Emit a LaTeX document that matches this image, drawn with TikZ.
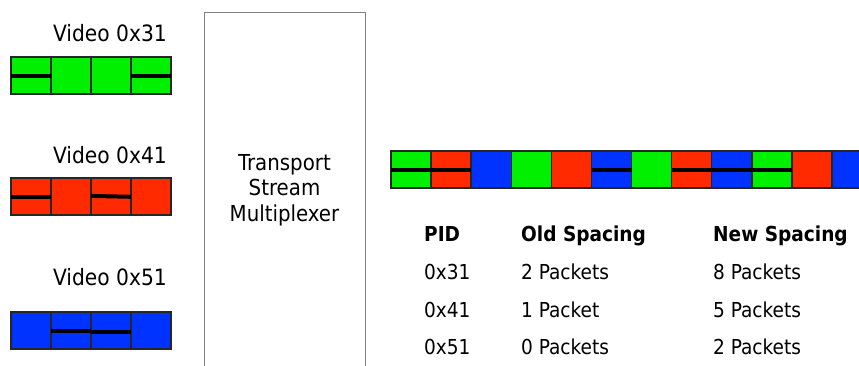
\documentclass[tikz,border=0pt]{standalone}
\usepackage{fontspec}
\setmainfont{DejaVu Sans Condensed}
\definecolor{pgreen}{HTML}{00F000}
\definecolor{pred}{HTML}{FF2A00}
\definecolor{pblue}{HTML}{0033FF}
\definecolor{edge}{HTML}{262626}
\tikzset{
  pkt/.style={draw=edge, line width=1.3pt, minimum width=40pt, minimum height=37pt,
    inner sep=0pt, outer sep=0pt, anchor=north west},
  gpkt/.style={pkt, fill=pgreen},
  rpkt/.style={pkt, fill=pred},
  bpkt/.style={pkt, fill=pblue},
  bar/.style={line width=4pt, black},
  lbl/.style={font=\fontsize{22.5}{27}\selectfont, inner sep=0pt, anchor=base east},
  cell/.style={font=\fontsize{20.6}{25}\selectfont, inner sep=0pt, anchor=base west},
  hcell/.style={cell, font=\fontsize{20.6}{25}\selectfont\bfseries},
}
\begin{document}
\begin{tikzpicture}[x=1pt, y=-1pt]
\useasboundingbox (0,0) rectangle (859,365);

% input streams
\node[lbl] (v31) at (167,41) {Video 0x31};
\foreach \i in {1,...,4} \node[gpkt] (g\i) at ({11+40*(\i-1)},57) {};
\draw[bar] (g1.west) -- (g1.east);
\draw[bar] (g4.west) -- (g4.east);

\node[lbl] (v41) at (167,163) {Video 0x41};
\foreach \i in {1,...,4} \node[rpkt] (r\i) at ({11+40*(\i-1)},178) {};
\draw[bar] (r1.west) -- (r1.east);
\draw[bar] ([yshift=0.6pt]r3.west) -- ([yshift=-0.3pt]r3.east);

\node[lbl] (v51) at (167,285) {Video 0x51};
\foreach \i in {1,...,4} \node[bpkt] (b\i) at ({11+40*(\i-1)},312) {};
\draw[bar] (b2.west) -- (b2.east);
\draw[bar] ([yshift=-1pt]b3.west) -- ([yshift=-1pt]b3.east);

% multiplexer
\node[draw=gray, line width=1.3pt, minimum width=161pt, minimum height=420pt,
      anchor=north west, inner sep=0pt] (mux) at (204,12) {};
\node[font=\fontsize{22}{25.5}\selectfont, align=center, inner sep=0pt] (muxtext)
  at (284.5,190) {Transport\\Stream\\Multiplexer};

% output stream
\foreach \i/\s in {1/gpkt,2/rpkt,3/bpkt,4/gpkt,5/rpkt,6/bpkt,7/gpkt,8/rpkt,9/bpkt,10/gpkt,11/rpkt,12/bpkt}
  \node[\s] (o\i) at ({391+40.1*(\i-1)},151) {};
\foreach \i in {1,2,6,8,9,10}
  \draw[bar] ([yshift=-0.5pt]o\i.west) -- ([yshift=-0.5pt]o\i.east);

% spacing table
\node[hcell] (hpid) at (424,241) {PID};
\node[hcell] (hold) at (521,241) {Old Spacing};
\node[hcell] (hnew) at (713,241) {New Spacing};
\node[cell] (p1) at (424,279) {0x31};
\node[cell] (p2) at (424,317) {0x41};
\node[cell] (p3) at (424,354) {0x51};
\node[cell] (o1t) at (521,279) {2 Packets};
\node[cell] (o2t) at (521,317) {1 Packet};
\node[cell] (o3t) at (521,354) {0 Packets};
\node[cell] (n1t) at (713,279) {8 Packets};
\node[cell] (n2t) at (713,317) {5 Packets};
\node[cell] (n3t) at (713,354) {2 Packets};
\end{tikzpicture}
\end{document}
